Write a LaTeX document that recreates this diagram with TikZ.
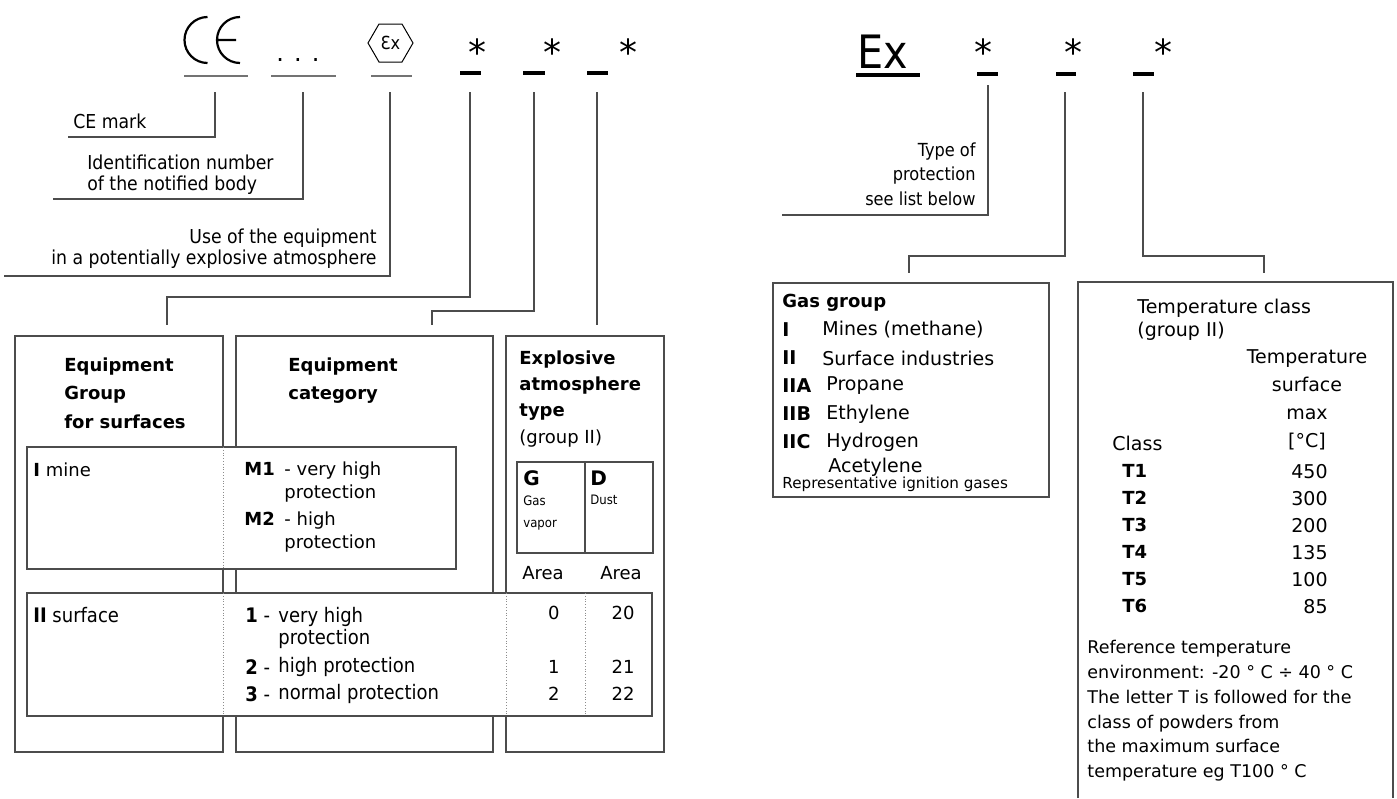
\documentclass[tikz,border=0pt]{standalone}
\usepackage{fontspec}
\setmainfont{DejaVu Sans}
\newfontfamily\narrowfont{DejaVu Sans Condensed}
\usetikzlibrary{positioning}

\tikzset{
    lead/.style={draw=black!70, line width=0.7pt},
    frame/.style={draw=black!70, line width=0.7pt},
    cellbox/.style={frame, fill=white},
    sepline/.style={draw=black!45, line width=0.4pt, densely dotted},
    bar/.style={draw=black, line width=2pt},
    uline/.style={draw=black!55, line width=1.1pt},
    narrow/.style={inner sep=0pt, font=\narrowfont\fontsize{9.6}{10.5}\selectfont},
    rowtxt/.style={inner sep=0pt, font=\narrowfont\fontsize{10}{11}\selectfont},
    plain/.style={inner sep=0pt, font=\fontsize{9}{11.5}\selectfont},
    wide/.style={inner sep=0pt, font=\fontsize{9.5}{14}\selectfont},
    head/.style={inner sep=0pt, align=left, font=\bfseries\fontsize{9}{14.25}\selectfont},
    star/.style={anchor=base, inner sep=0pt, font=\fontsize{18}{18}\selectfont},
}

\begin{document}
\begin{tikzpicture}[x=0.5pt, y=-0.5pt]
    \useasboundingbox (0,0) rectangle (1397,798);

    \draw [line width=1.1pt] (207.5,17) arc [start angle=-90, end angle=-270, radius=23];
    \draw [line width=1.1pt] (240,17) arc [start angle=-90, end angle=-270, radius=23]
      (217,40) -- (236,40);
    \node [anchor=base, inner sep=0pt, font=\fontsize{12}{12}\selectfont] (dots) at (298,61) {. . .};
    \draw [line width=0.5pt] (368,43) -- (379,24) -- (402,24) -- (413,43) -- (402,62) -- (379,62) -- cycle;
    \node [inner sep=0pt, font=\narrowfont\fontsize{9}{9}\selectfont] (exsym) at (390.5,43) {Ɛx};
    \node [star] (s1) at (477,65) {*};
    \node [star] (s2) at (552,65) {*};
    \node [star] (s3) at (628,65) {*};
    \draw [uline] (184,76) -- (248,76);
    \draw [uline] (271,76) -- (336,76);
    \draw [uline] (371,76) -- (412,76);
    \draw [bar] (460,73) -- (481,73);
    \draw [bar] (523,73) -- (545,73);
    \draw [bar] (587,73) -- (608,73);

    \coordinate (ce-a) at (215,92);
    \coordinate (ce-b) at (68,137);
    \coordinate (nb-a) at (303,92);
    \coordinate (nb-b) at (53,199);
    \coordinate (ex-a) at (390,92);
    \coordinate (ex-b) at (4,276);
    \coordinate (g-a) at (470,92);
    \coordinate (g-b) at (167,297);
    \coordinate (g-c) at (167,325);
    \coordinate (c-a) at (534,92);
    \coordinate (c-b) at (432,311);
    \coordinate (c-c) at (432,325);
    \coordinate (t-a) at (597,92);
    \coordinate (t-c) at (597,325);
    \draw [lead] (ce-a) |- (ce-b);
    \draw [lead] (nb-a) |- (nb-b);
    \draw [lead] (ex-a) |- (ex-b);
    \draw [lead] (g-a) |- (g-b) -- (g-c);
    \draw [lead] (c-a) |- (c-b) -- (c-c);
    \draw [lead] (t-a) -- (t-c);

    \node [narrow, anchor=west] (cemark) at (73,121) {CE mark};
    \node [narrow, anchor=north west, align=left] (notified) at (87,155) {Identification number\\of the notified body};
    \node [narrow, anchor=north east, align=right] (atexuse) at (377,229) {Use of the equipment\\in a potentially explosive atmosphere};

    \draw [frame] (15,336) rectangle (223,752);
    \draw [frame] (236,336) rectangle (493,752);
    \draw [frame] (506,336) rectangle (664,752);
    \draw [cellbox] (27,447) rectangle (456,569);
    \draw [cellbox] (27,593) rectangle (652,716);
    \draw [sepline] (223,447) -- (223,569);
    \draw [sepline] (223,593) -- (223,716);
    \draw [sepline] (506,593) -- (506,716);
    \draw [sepline] (585,593) -- (585,716);
    \draw [frame] (517,462) rectangle (653,553) (585,462) -- (585,553);

    \node [head, anchor=north west] (grphead) at (64,357) {Equipment\\Group\\for surfaces};
    \node [head, anchor=north west] (cathead) at (288,357) {Equipment\\category};
    \node [head, anchor=north west, font=\bfseries\fontsize{9}{13.2}\selectfont] (atmhead) at (519,350)
      {Explosive\\atmosphere\\type\\\textmd{(group II)}};

    \node [plain, anchor=west] (mine) at (33,470) {\textbf{I} mine};
    \node [plain, anchor=west] (m1) at (244,469) {\textbf{M1}};
    \node [plain, anchor=north west, align=left] (m1t) at (284,461) {- very high\\protection};
    \node [plain, anchor=west] (m2) at (244,519) {\textbf{M2}};
    \node [plain, anchor=north west, align=left] (m2t) at (284,511) {- high\\protection};

    \node [rowtxt, anchor=west] (surf) at (33,615) {\textbf{II} surface};
    \node [rowtxt, anchor=west] (k1) at (245,615) {\textbf{1} -};
    \node [rowtxt, anchor=north west, align=left] (k1t) at (278,607) {very high\\protection};
    \node [rowtxt, anchor=west] (k2) at (245,667) {\textbf{2} -};
    \node [rowtxt, anchor=west] (k2t) at (278,667) {high protection};
    \node [rowtxt, anchor=west] (k3) at (245,694) {\textbf{3} -};
    \node [rowtxt, anchor=west] (k3t) at (278,694) {normal protection};

    \node [anchor=west, inner sep=0pt, font=\bfseries\fontsize{10}{10}\selectfont] (gcell) at (523,478) {G};
    \node [anchor=north west, align=left, inner sep=0pt, font=\narrowfont\fontsize{6.5}{11}\selectfont] (gcellt) at (523,495) {Gas\\vapor};
    \node [anchor=west, inner sep=0pt, font=\bfseries\fontsize{10}{10}\selectfont] (dcell) at (590,478) {D};
    \node [anchor=north west, align=left, inner sep=0pt, font=\narrowfont\fontsize{6.5}{11}\selectfont] (dcellt) at (590,495) {Dust};
    \node [plain] (areag) at (543,573) {Area};
    \node [plain] (aread) at (621,573) {Area};
    \node [plain, anchor=east] (z0) at (560,613) {0};
    \node [plain, anchor=east] (z20) at (635,613) {20};
    \node [plain, anchor=east] (z1) at (560,667) {1};
    \node [plain, anchor=east] (z21) at (635,667) {21};
    \node [plain, anchor=east] (z2) at (560,694) {2};
    \node [plain, anchor=east] (z22) at (635,694) {22};

    \node [anchor=base west, inner sep=0pt, font=\narrowfont\fontsize{23}{23}\selectfont] (exmark) at (857,68) {Ex};
    \draw [bar, line width=1.6pt] (856,75) -- (920,75);
    \node [star] (r1) at (983,65) {*};
    \node [star] (r2) at (1073,65) {*};
    \node [star] (r3) at (1163,65) {*};
    \draw [bar] (977,74) -- (998,74);
    \draw [bar] (1056,74) -- (1076,74);
    \draw [bar] (1133,74) -- (1154,74);

    \coordinate (p-a) at (988,85);
    \coordinate (p-b) at (782,215);
    \coordinate (gg-a) at (1065,92);
    \coordinate (gg-b) at (909,256);
    \coordinate (gg-c) at (909,273);
    \coordinate (tt-a) at (1143,92);
    \coordinate (tt-b) at (1264,256);
    \coordinate (tt-c) at (1264,273);
    \draw [lead] (p-a) |- (p-b);
    \draw [lead] (gg-a) |- (gg-b) -- (gg-c);
    \draw [lead] (tt-a) |- (tt-b) -- (tt-c);
    \node [narrow, anchor=north east, align=right, font=\narrowfont\fontsize{9}{12.25}\selectfont] (prot) at (976,142)
      {Type of\\protection\\see list below};

    \draw [frame] (773,283) rectangle (1049,497);
    \node [anchor=west, inner sep=0pt, font=\bfseries\fontsize{9}{9}\selectfont] (gashead) at (782,303) {Gas group};
    \node [wide, anchor=west] (gI) at (782,330) {\textbf{I}};
    \node [wide, anchor=west] (gIt) at (822,330) {Mines (methane)};
    \node [wide, anchor=west] (gII) at (782,358) {\textbf{II}};
    \node [wide, anchor=west] (gIIt) at (822,358) {Surface industries};
    \node [wide, anchor=west] (gA) at (782,386) {\textbf{IIA}};
    \node [wide, anchor=west] (gAt) at (826,386) {Propane};
    \node [wide, anchor=west] (gB) at (782,414) {\textbf{IIB}};
    \node [wide, anchor=west] (gBt) at (826,414) {Ethylene};
    \node [wide, anchor=west] (gC) at (782,442) {\textbf{IIC}};
    \node [wide, anchor=west] (gCt) at (826,442) {Hydrogen};
    \node [wide, anchor=west] (gCu) at (828,467) {Acetylene};
    \node [anchor=west, inner sep=0pt, font=\fontsize{7.6}{7.6}\selectfont] (gasrep) at (782,484) {Representative ignition gases};

    \draw [frame] (1078,798) -- (1078,282) -- (1393,282) -- (1393,798);
    \node [wide, anchor=north west, align=left, font=\fontsize{9.5}{11.5}\selectfont] (tclass) at (1137,299) {Temperature class\\(group II)};
    \node [wide, anchor=north, align=center] (tsurf) at (1307,349) {Temperature\\surface\\max\\{[°C]}};
    \node [wide, anchor=west] (tcls) at (1112,443) {Class};
    \node [anchor=north west, align=left, inner sep=0pt, font=\bfseries\fontsize{9}{13.5}\selectfont] (tlist) at (1122,464)
      {T1\\T2\\T3\\T4\\T5\\T6};
    \node [anchor=north east, align=right, inner sep=0pt, font=\fontsize{9.5}{13.5}\selectfont] (tvals) at (1328,464)
      {450\\300\\200\\135\\100\\85};
    \node [anchor=north west, align=left, inner sep=0pt, font=\fontsize{8.75}{12.4}\selectfont] (tnote) at (1087,640)
      {Reference temperature\\environment: -20 ° C ÷ 40 ° C\\The letter T is followed for the\\class of powders from\\the maximum surface\\temperature eg T100 ° C};
\end{tikzpicture}
\end{document}
